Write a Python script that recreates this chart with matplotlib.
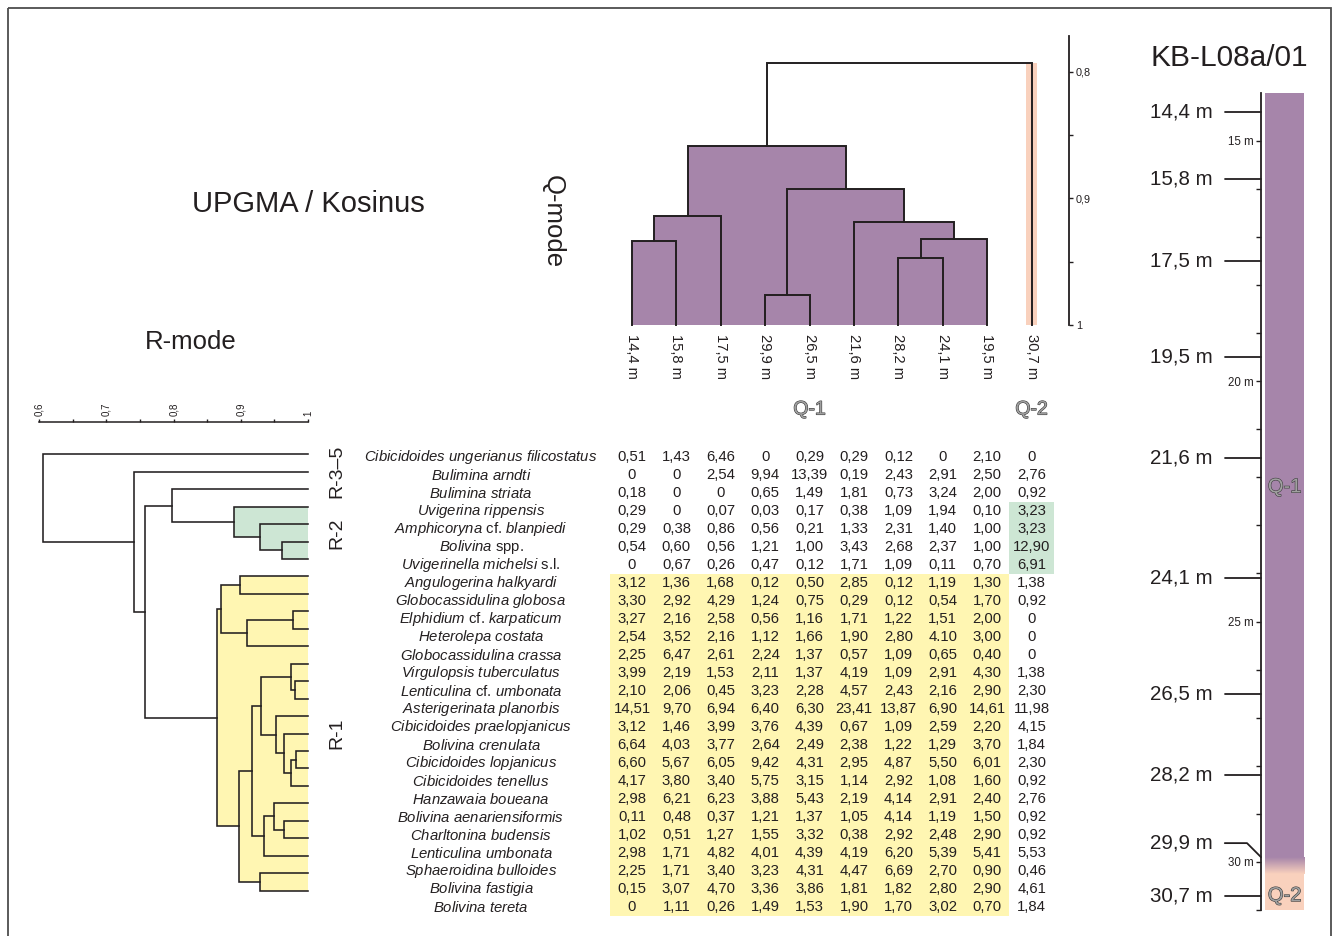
import numpy as np
import matplotlib
matplotlib.use("Agg")
import matplotlib.pyplot as plt
from matplotlib.patches import Rectangle
from matplotlib.colors import LinearSegmentedColormap
import matplotlib.patheffects as pe

plt.rcParams['font.family'] = ['Liberation Sans', 'DejaVu Sans']
plt.rcParams['mathtext.fontset'] = 'custom'
plt.rcParams['mathtext.rm'] = 'Liberation Sans'
plt.rcParams['mathtext.it'] = 'Liberation Sans:italic'

INK = '#231f20'
PURPLE = '#a685aa'
PEACH = '#f9d1bd'
GREEN = '#cde6d4'
YELLOW = '#fff6b2'

# species = table rows, in R-mode dendrogram order
species = [
    "Cibicidoides ungerianus filicostatus", "Bulimina arndti", "Bulimina striata",
    "Uvigerina rippensis", "Amphicoryna cf. blanpiedi", "Bolivina spp.",
    "Uvigerinella michelsi s.l.", "Angulogerina halkyardi", "Globocassidulina globosa",
    "Elphidium cf. karpaticum", "Heterolepa costata", "Globocassidulina crassa",
    "Virgulopsis tuberculatus", "Lenticulina cf. umbonata", "Asterigerinata planorbis",
    "Cibicidoides praelopjanicus", "Bolivina crenulata", "Cibicidoides lopjanicus",
    "Cibicidoides tenellus", "Hanzawaia boueana", "Bolivina aenariensiformis",
    "Charltonina budensis", "Lenticulina umbonata", "Sphaeroidina bulloides",
    "Bolivina fastigia", "Bolivina tereta",
]
upright_words = {"cf.", "spp.", "s.l."}

# samples = table columns, in Q-mode dendrogram order (depth in m)
q_depths = [14.4, 15.8, 17.5, 29.9, 26.5, 21.6, 28.2, 24.1, 19.5, 30.7]
sample_depths = sorted(q_depths)

# relative abundances (%), one string per species row, columns as q_depths
abundance_rows = [
    "0,51 1,43 6,46 0 0,29 0,29 0,12 0 2,10 0",
    "0 0 2,54 9,94 13,39 0,19 2,43 2,91 2,50 2,76",
    "0,18 0 0 0,65 1,49 1,81 0,73 3,24 2,00 0,92",
    "0,29 0 0,07 0,03 0,17 0,38 1,09 1,94 0,10 3,23",
    "0,29 0,38 0,86 0,56 0,21 1,33 2,31 1,40 1,00 3,23",
    "0,54 0,60 0,56 1,21 1,00 3,43 2,68 2,37 1,00 12,90",
    "0 0,67 0,26 0,47 0,12 1,71 1,09 0,11 0,70 6,91",
    "3,12 1,36 1,68 0,12 0,50 2,85 0,12 1,19 1,30 1,38",
    "3,30 2,92 4,29 1,24 0,75 0,29 0,12 0,54 1,70 0,92",
    "3,27 2,16 2,58 0,56 1,16 1,71 1,22 1,51 2,00 0",
    "2,54 3,52 2,16 1,12 1,66 1,90 2,80 4.10 3,00 0",
    "2,25 6,47 2,61 2,24 1,37 0,57 1,09 0,65 0,40 0",
    "3,99 2,19 1,53 2,11 1,37 4,19 1,09 2,91 4,30 1,38",
    "2,10 2,06 0,45 3,23 2,28 4,57 2,43 2,16 2,90 2,30",
    "14,51 9,70 6,94 6,40 6,30 23,41 13,87 6,90 14,61 11,98",
    "3,12 1,46 3,99 3,76 4,39 0,67 1,09 2,59 2,20 4,15",
    "6,64 4,03 3,77 2,64 2,49 2,38 1,22 1,29 3,70 1,84",
    "6,60 5,67 6,05 9,42 4,31 2,95 4,87 5,50 6,01 2,30",
    "4,17 3,80 3,40 5,75 3,15 1,14 2,92 1,08 1,60 0,92",
    "2,98 6,21 6,23 3,88 5,43 2,19 4,14 2,91 2,40 2,76",
    "0,11 0,48 0,37 1,21 1,37 1,05 4,14 1,19 1,50 0,92",
    "1,02 0,51 1,27 1,55 3,32 0,38 2,92 2,48 2,90 0,92",
    "2,98 1,71 4,82 4,01 4,39 4,19 6,20 5,39 5,41 5,53",
    "2,25 1,71 3,40 3,23 4,31 4,47 6,69 2,70 0,90 0,46",
    "0,15 3,07 4,70 3,36 3,86 1,81 1,82 2,80 2,90 4,61",
    "0 1,11 0,26 1,49 1,53 1,90 1,70 3,02 0,70 1,84",
]

# UPGMA / cosine trees: (similarity, left, right); leaves are row / column indices
r2_tree = (0.890, 3, (0.929, 4, (0.962, 5, 6)))
r1_tree = (0.864,
           (0.871, (0.899, 7, 8), (0.909, (0.977, 9, 10), 11)),
           (0.897,
            (0.916,
             (0.930, (0.974, 12, (0.980, 13, 14)),
              (0.952, 15, (0.965, 16, (0.974, (0.982, 17, 18), 19)))),
             (0.935, (0.950, 20, (0.964, 21, 22)), 23)),
            (0.929, 24, 25)))
r_tree = (0.606, 0, (0.741, 1, (0.757, (0.797, 2, r2_tree), r1_tree)))

q1_tree = (0.859, (0.914, (0.934, 0, 1), 2),
           (0.893, (0.976, 3, 4), (0.919, 5, (0.932, (0.947, 6, 7), 8))))
q_tree = (0.793, q1_tree, 9)

# R-mode clusters: label, rows
r_groups = [("R-3\u20135", [0, 1, 2]), ("R-2", [3, 4, 5, 6]), ("R-1", list(range(7, 26)))]
q_groups = [("Q-1", list(range(0, 9))), ("Q-2", [9])]

# core column zones (m)
core_top, core_base = 14.0, 31.0
q1_base, q2_top = 29.9, 30.25
q1_label_depth = 22.2


def walk(node, segs, boxes):
    if not isinstance(node, tuple):
        return float(node), 1.0
    h, a, b = node
    pa, ha = walk(a, segs, boxes)
    pb, hb = walk(b, segs, boxes)
    segs.append(([pa, pa, pb, pb], [ha, h, h, hb]))
    boxes.append((pa, pb, h))
    return (pa + pb) / 2, h


def tree_parts(node):
    segs, boxes = [], []
    walk(node, segs, boxes)
    return segs, boxes


def depth_label(d):
    return f"{d:.1f} m".replace(".", ",")


def italic_name(name):
    parts = []
    for w in name.split():
        parts.append(w if w in upright_words else r"$\mathit{" + w + "}$")
    return " ".join(parts)


W, H = 1333, 936
fig = plt.figure(figsize=(W / 100, H / 100), dpi=100)


def px_axes(x0, y0, x1, y1):
    ax = fig.add_axes([x0 / W, 1 - y1 / H, (x1 - x0) / W, (y1 - y0) / H])
    ax.set_facecolor('none')
    return ax


# background: frame and titles
bg = fig.add_axes([0, 0, 1, 1])
bg.set_xlim(0, W)
bg.set_ylim(H, 0)
bg.axis('off')
bg.add_patch(Rectangle((8, 8), 1323, 960, fill=False, ec='#4d4d4d', lw=1.3, clip_on=False))
bg.text(308, 204, "UPGMA / Kosinus", fontsize=21, color=INK, ha='center', va='center')
bg.text(191, 342, "R-mode", fontsize=18.5, color=INK, ha='center', va='center')
bg.text(553, 222, "Q-mode", fontsize=18.5, color=INK, ha='center', va='center', rotation=270)
bg.text(1229, 58, "KB-L08a/01", fontsize=21.5, color=INK, ha='center', va='center')

outlined = [pe.Stroke(linewidth=0.8, foreground='#3a3a3a'), pe.Normal()]
OUTLINE_FILL = '#a0a0a0'

# ---------------- R-mode dendrogram ----------------
r_leaf0, r_step = 454.3, 17.46
ax_r = px_axes(39.3, 422.3, 308, 899.4)
ax_r.set_xlim(0.6, 1.0)
ax_r.set_ylim(25.5, (422.3 - r_leaf0) / r_step)
for tree, col in [(r2_tree, GREEN), (r1_tree, YELLOW)]:
    for pa, pb, h in tree_parts(tree)[1]:
        ax_r.add_patch(Rectangle((h, pa), 1 - h, pb - pa, fc=col, ec='none', clip_on=False))
for pos, hts in tree_parts(r_tree)[0]:
    ax_r.plot(hts, pos, color=INK, lw=1.15, clip_on=False, solid_joinstyle='miter')
ax_r.xaxis.tick_top()
ax_r.set_xticks([0.6, 0.7, 0.8, 0.9, 1.0])
ax_r.set_xticklabels(["0,6", "0,7", "0,8", "0,9", "1"], rotation=90, fontsize=7, color=INK)
ax_r.set_xticks([0.65, 0.75, 0.85, 0.95], minor=True)
ax_r.tick_params(axis='x', which='both', direction='out', length=2.5, width=1, color=INK, pad=2)
ax_r.set_yticks([])
for s in ['left', 'right', 'bottom']:
    ax_r.spines[s].set_visible(False)
ax_r.spines['top'].set_linewidth(1.1)
ax_r.spines['top'].set_color(INK)
for label, rows in r_groups:
    ax_r.annotate(label, xy=(1.0, np.mean(rows)), xytext=(29, 0), textcoords='offset pixels',
                  rotation=90, fontsize=14, color=INK, ha='center', va='center')

# ---------------- Q-mode dendrogram ----------------
q_x0, q_step = 632, 44.4
q_base_px, q_px_per_unit = 325, 1266.5
ax_q = px_axes(610, 36, 1069, q_base_px)
ax_q.set_xlim((610 - q_x0) / q_step, (1069 - q_x0) / q_step)
ax_q.set_ylim(1.0, 1 - (q_base_px - 36) / q_px_per_unit)
for pa, pb, h in tree_parts(q1_tree)[1]:
    ax_q.add_patch(Rectangle((pa, h), pb - pa, 1 - h, fc=PURPLE, ec='none'))
ax_q.add_patch(Rectangle((9 - 0.13, q_tree[0]), 0.26, 1 - q_tree[0], fc=PEACH, ec='none'))
for pos, hts in tree_parts(q_tree)[0]:
    ax_q.plot(pos, hts, color=INK, lw=1.4, clip_on=False, solid_joinstyle='miter')
ax_q.yaxis.tick_right()
ax_q.set_yticks([0.8, 0.9, 1.0])
ax_q.set_yticklabels(["0,8", "0,9", "1"], fontsize=7.8, color=INK)
ax_q.set_yticks([0.85, 0.95], minor=True)
ax_q.tick_params(axis='y', which='both', direction='out', length=3, width=1, color=INK, pad=2)
ax_q.set_xticks([])
for s in ['left', 'top', 'bottom']:
    ax_q.spines[s].set_visible(False)
ax_q.spines['right'].set_linewidth(1.3)
ax_q.spines['right'].set_color(INK)
for i, d in enumerate(q_depths):
    ax_q.annotate(depth_label(d), xy=(i, 1.0), xytext=(0, -9), textcoords='offset pixels',
                  rotation=270, fontsize=10.6, color=INK, ha='center', va='top')
for label, cols in q_groups:
    ax_q.annotate(label, xy=(np.mean(cols), 1.0), xytext=(0, -85), textcoords='offset pixels',
                  fontsize=14, color=OUTLINE_FILL, ha='center', va='center', path_effects=outlined)

# ---------------- table ----------------
row0, row_step = 457, 18
ax_t = px_axes(340, 440, 1069, 925)
ax_t.set_xlim((340 - q_x0) / q_step, (1069 - q_x0) / q_step)
ax_t.set_ylim((925 - row0) / row_step, (440 - row0) / row_step)
ax_t.axis('off')
r1_rows, r2_rows = r_groups[2][1], r_groups[1][1]
q1_cols, q2_cols = q_groups[0][1], q_groups[1][1]
ax_t.add_patch(Rectangle((min(q1_cols) - 0.5, min(r1_rows) - 0.5), len(q1_cols), len(r1_rows),
                         fc=YELLOW, ec='none'))
ax_t.add_patch(Rectangle((min(q2_cols) - 0.5, min(r2_rows) - 0.5), len(q2_cols), len(r2_rows),
                         fc=GREEN, ec='none'))
name_x = (481 - q_x0) / q_step
for r, (name, row) in enumerate(zip(species, abundance_rows)):
    ax_t.text(name_x, r, italic_name(name), fontsize=10.7, color=INK, ha='center', va='center')
    for c, v in enumerate(row.split()):
        ax_t.text(c, r, v, fontsize=10.7, color=INK, ha='center', va='center')

# ---------------- core column ----------------
ax_d = px_axes(1261, 92.7, 1304, 910)
col_x0 = 0.093
cmap = LinearSegmentedColormap.from_list('q12', [PURPLE, PEACH])
ax_d.add_patch(Rectangle((col_x0, core_top), 1 - col_x0, q1_base - core_top, fc=PURPLE, ec='none'))
ax_d.imshow(np.linspace(0, 1, 64).reshape(-1, 1), cmap=cmap, aspect='auto',
            extent=[col_x0, 1, q2_top, q1_base], interpolation='bilinear')
ax_d.add_patch(Rectangle((col_x0, q2_top), 1 - col_x0, core_base - q2_top, fc=PEACH, ec='none'))
ax_d.set_xlim(0, 1)
ax_d.set_ylim(core_base, core_top)
ax_d.set_xticks([])
ax_d.set_yticks([15, 20, 25, 30])
ax_d.set_yticklabels(["15 m", "20 m", "25 m", "30 m"], fontsize=8.3, color=INK)
ax_d.set_yticks([d for d in range(16, 32) if d % 5], minor=True)
ax_d.tick_params(axis='y', which='both', direction='out', length=3.3, width=1, color=INK, pad=2)
for s in ['right', 'top', 'bottom']:
    ax_d.spines[s].set_visible(False)
ax_d.spines['left'].set_linewidth(1.3)
ax_d.spines['left'].set_color(INK)
ax_d.text(0.55, q1_label_depth, "Q-1", fontsize=14.5, color=OUTLINE_FILL, ha='center', va='center',
          path_effects=outlined)
ax_d.text(0.55, q_depths[-1], "Q-2", fontsize=14.5, color=OUTLINE_FILL, ha='center', va='center',
          path_effects=outlined)
for d in sample_depths:
    lift = 14 if d == 29.9 else 0
    ax_d.annotate(depth_label(d), xy=(0, d), xycoords=ax_d.get_yaxis_transform(),
                  xytext=(-48, lift), textcoords='offset pixels', fontsize=14.8, color=INK,
                  ha='right', va='center',
                  arrowprops=dict(arrowstyle='-', color=INK, lw=1.3, shrinkA=6.5, shrinkB=0,
                                  relpos=(1, 0.5),
                                  connectionstyle="angle,angleA=0,angleB=-45,rad=0"))

fig.savefig("out.png", dpi=100)
